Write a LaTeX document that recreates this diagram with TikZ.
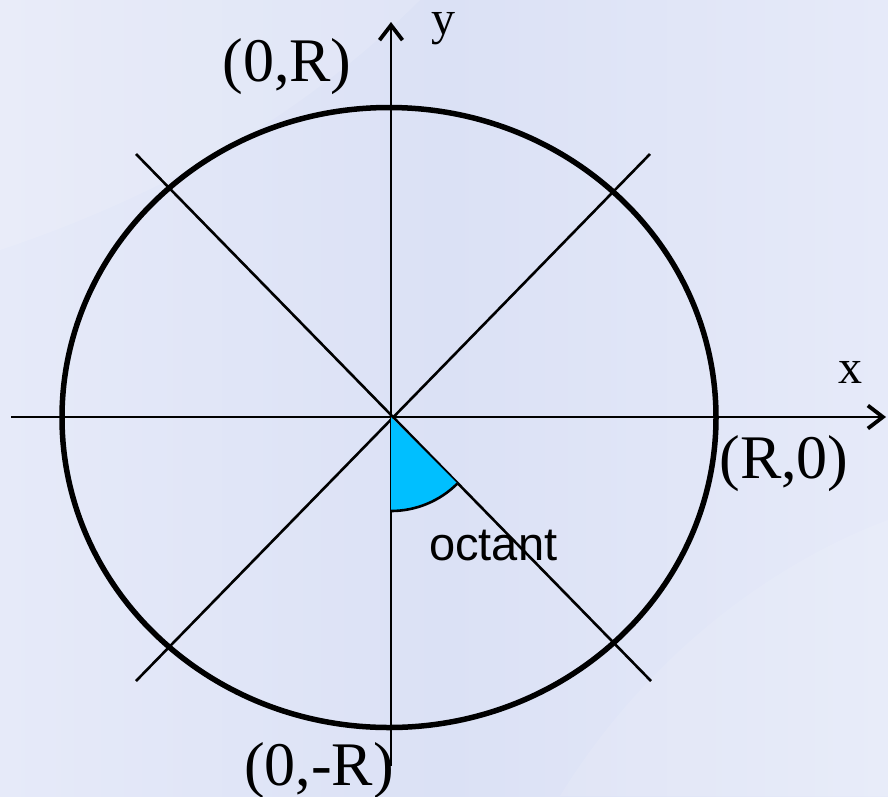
\documentclass[tikz,border=0pt]{standalone}
\usepackage{fontspec}
\setmainfont{Liberation Serif}
\newfontfamily\labelsans{Liberation Sans}
\usetikzlibrary{arrows.meta,calc}
\definecolor{bgmid}{RGB}{219,225,245}
\definecolor{bglight}{RGB}{230,234,249}
\definecolor{wedgecyan}{RGB}{0,191,255}
\tikzset{
  axisline/.style={line width=2.8pt, -{Straight Barb[length=15pt,width=23pt,line width=3.8pt]}},
  thinline/.style={line width=2.6pt},
  circleline/.style={line width=5.5pt},
  coordlabel/.style={inner sep=0pt, font=\fontsize{62}{62}\selectfont},
  axislabel/.style={inner sep=0pt, font=\fontsize{48}{48}\selectfont},
  octlabel/.style={inner sep=0pt, font=\labelsans\fontsize{47}{47}\selectfont},
}
\begin{document}
\begin{tikzpicture}[x=1pt,y=-1pt]
  % background
  \shade[left color=bglight, right color=bglight, middle color=bgmid] (0,0) rectangle (888,796);
  \useasboundingbox (0,0) rectangle (888,796);
  \fill[white, opacity=0.12] (0,250) .. controls (150,200) and (300,120) .. (420,0) -- (0,0) -- cycle;
  \fill[white, opacity=0.10] (560,796) .. controls (650,650) and (780,560) .. (888,520) -- (888,796) -- cycle;

  \coordinate (O) at (391,417);
  \coordinate (xs) at (11,417);
  \coordinate (xe) at (886,417);
  \coordinate (ys) at (391,766);
  \coordinate (ye) at (391,22);
  \coordinate (d1a) at (136,154);
  \coordinate (d1b) at (651,681);
  \coordinate (d2a) at (650,154);
  \coordinate (d2b) at (136,681);

  % axes and diagonals
  \draw[axisline] (xs) -- (xe);
  \draw[axisline] (ys) -- (ye);
  \draw[thinline] (d1a) -- (d1b);
  \draw[thinline] (d2a) -- (d2b);

  % circle
  \draw[circleline] (389,417.5) ellipse [x radius=327, y radius=310];

  % octant wedge
  \fill[wedgecyan] (O) -- ++(0,94) arc[start angle=90, end angle=45, radius=94] -- cycle;
  \draw[thinline] ($(O)+(0,94)$) arc[start angle=90, end angle=45, radius=94];

  % labels
  \node[coordlabel] (l0R) at (287,67) {(0,R)};
  \node[coordlabel] (lR0) at (784,464) {(R,0)};
  \node[coordlabel] (l0mR) at (319,771) {(0,-R)};
  \node[axislabel, anchor=base] (ly) at (443,34) {y};
  \node[axislabel, anchor=base] (lx) at (850,383) {x};
  \node[octlabel, anchor=base west] (loct) at (429,560) {octant};
\end{tikzpicture}
\end{document}
